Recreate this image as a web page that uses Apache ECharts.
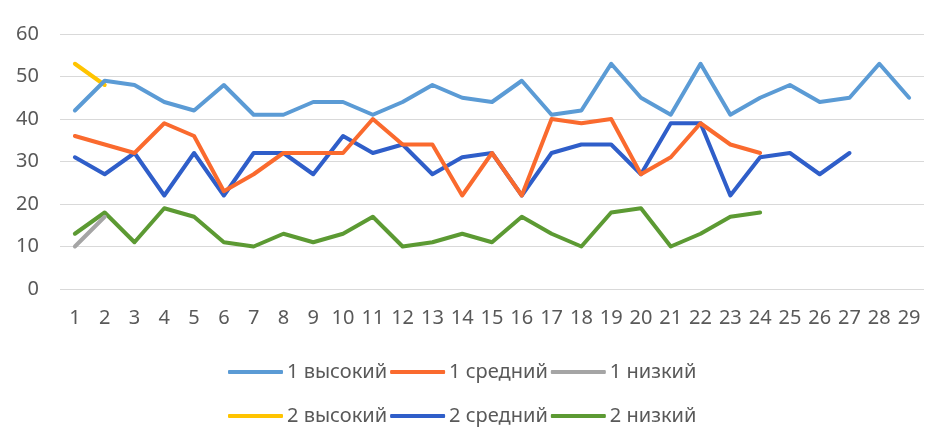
<!DOCTYPE html>
<html lang="ru">
<head>
    <meta charset="utf-8">
    <title>Chart</title>
    <script src="https://cdn.jsdelivr.net/npm/echarts@6/dist/echarts.min.js"></script>
    <style>
        html, body { margin: 0; padding: 0; background: #fff; }
        #main { width: 942px; height: 438px; }
    </style>
</head>
<body>
    <div id="main"></div>
    <script type="text/javascript">
        var days = ['1', '2', '3', '4', '5', '6', '7', '8', '9', '10', '11', '12', '13', '14', '15',
            '16', '17', '18', '19', '20', '21', '22', '23', '24', '25', '26', '27', '28', '29'];

        var high1 = [42, 49, 48, 44, 42, 48, 41, 41, 44, 44, 41, 44, 48, 45, 44, 49, 41, 42, 53, 45, 41, 53, 41, 45, 48, 44, 45, 53, 45];
        var mid1 = [36, 34, 32, 39, 36, 23, 27, 32, 32, 32, 40, 34, 34, 22, 32, 22, 40, 39, 40, 27, 31, 39, 34, 32];
        var low1 = [10, 17];
        var high2 = [53, 48];
        var mid2 = [31, 27, 32, 22, 32, 22, 32, 32, 27, 36, 32, 34, 27, 31, 32, 22, 32, 34, 34, 27, 39, 39, 22, 31, 32, 27, 32];
        var low2 = [13, 18, 11, 19, 17, 11, 10, 13, 11, 13, 17, 10, 11, 13, 11, 17, 13, 10, 18, 19, 10, 13, 17, 18];

        var names = ['1 высокий', '1 средний', '1 низкий', '2 высокий', '2 средний', '2 низкий'];
        var values = [high1, mid1, low1, high2, mid2, low2];
        var colors = ['#5B9BD5', '#FA6A2E', '#A5A5A5', '#FFC400', '#2F5EC9', '#5C9A33'];

        var font = '"Noto Sans", "DejaVu Sans", sans-serif';

        var series = names.map(function (n, i) {
            return {
                name: n,
                type: 'line',
                data: values[i],
                symbol: 'none',
                smooth: false,
                z: 10 - i,
                lineStyle: { width: 4, color: colors[i], join: 'round', cap: 'round' },
                itemStyle: { color: colors[i] }
            };
        });

        var legendBase = {
            left: 228,
            padding: 0,
            itemWidth: 55,
            itemHeight: 4,
            itemGap: 3,
            icon: 'roundRect',
            textStyle: { fontSize: 20, color: '#595959', fontFamily: font, padding: [0, 0, 0, -1] }
        };

        var myChart = echarts.init(document.getElementById('main'));
        myChart.setOption({
            animation: false,
            color: colors,
            grid: { left: 60, right: 18, top: 34, bottom: 149 },
            legend: [
                Object.assign({}, legendBase, { top: 362, data: names.slice(0, 3) }),
                Object.assign({}, legendBase, { top: 406, data: names.slice(3) })
            ],
            xAxis: {
                type: 'category',
                data: days,
                boundaryGap: true,
                axisLine: { show: false },
                axisTick: { show: false },
                axisLabel: { color: '#595959', fontSize: 20, fontFamily: font, margin: 19, interval: 0 }
            },
            yAxis: {
                type: 'value',
                min: 0,
                max: 60,
                interval: 10,
                axisLine: { show: false },
                axisTick: { show: false },
                axisLabel: { color: '#595959', fontSize: 20, fontFamily: font, margin: 21 },
                splitLine: { lineStyle: { color: '#D9D9D9', width: 1 } }
            },
            series: series
        });
    </script>
</body>
</html>
